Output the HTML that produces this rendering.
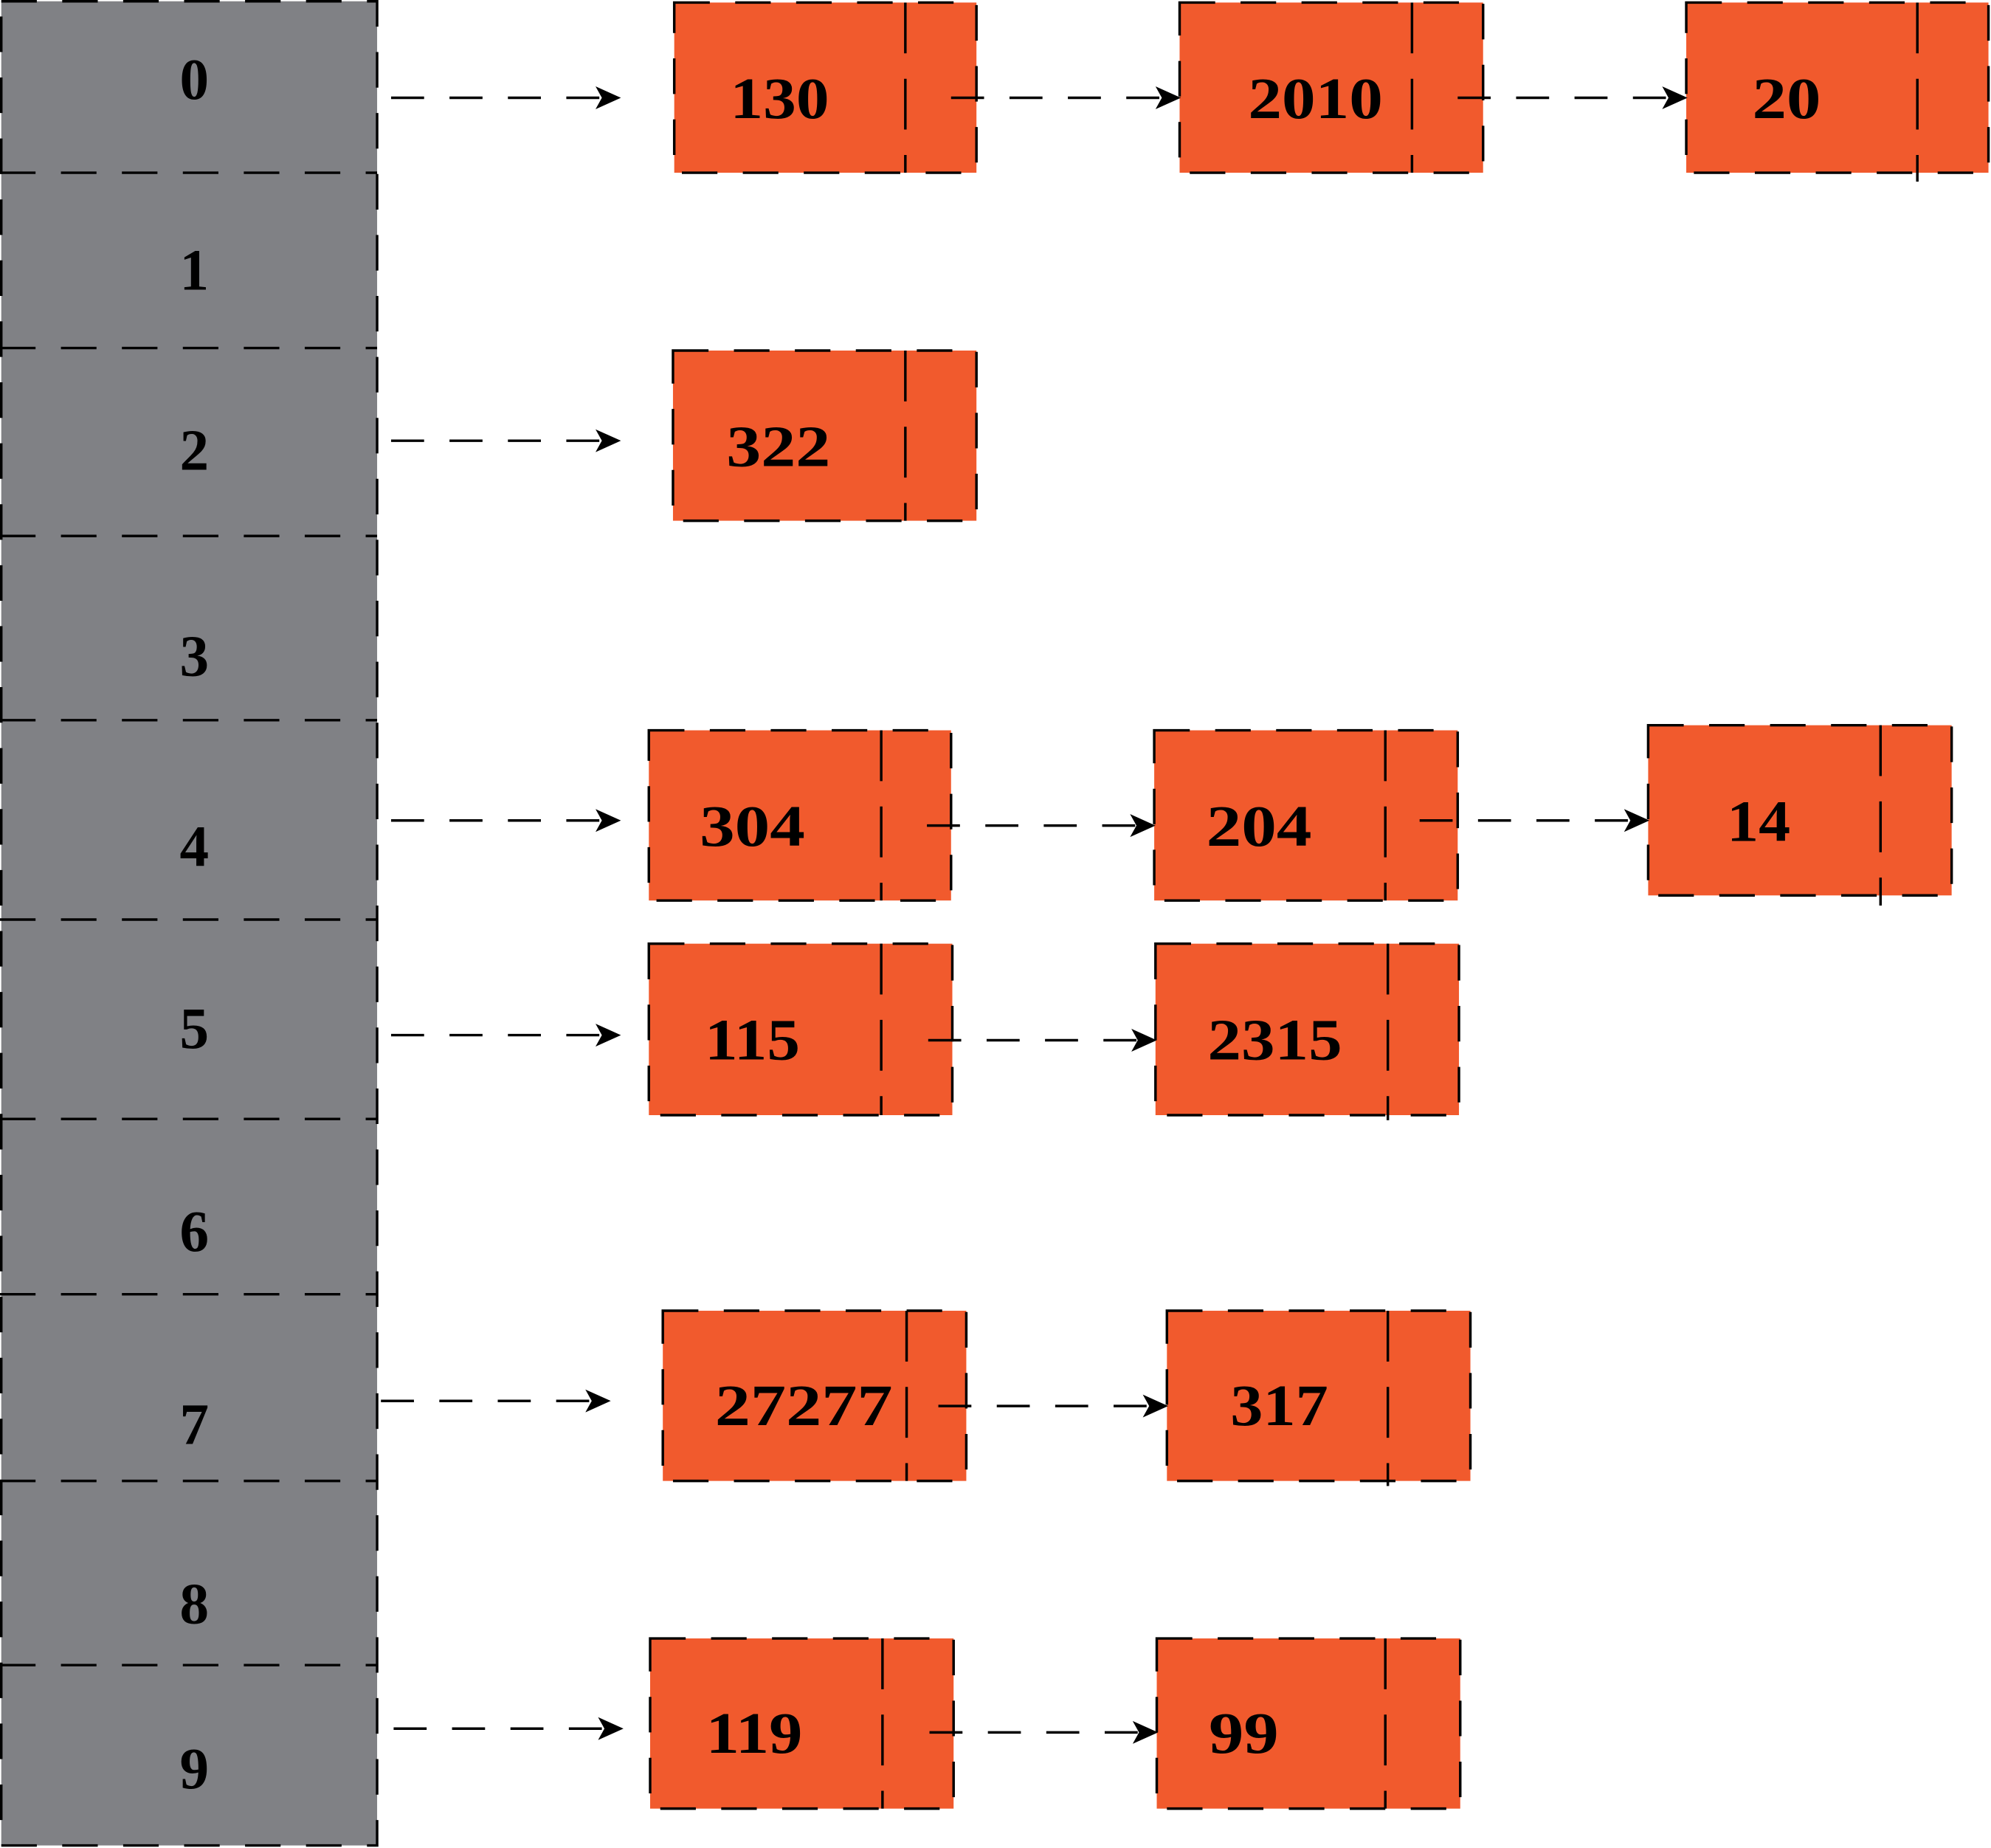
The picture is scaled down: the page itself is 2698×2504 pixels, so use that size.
<!DOCTYPE html>
<html><head><meta charset="utf-8"><style>html,body{margin:0;padding:0;background:#fff}svg{display:block}</style></head>
<body>
<svg width="2698" height="2504" viewBox="0 0 1568 1455" preserveAspectRatio="none" xmlns="http://www.w3.org/2000/svg">
<defs>
<marker id="ah" markerWidth="20" markerHeight="18" refX="19" refY="9" orient="auto" markerUnits="userSpaceOnUse" viewBox="0 0 20 18">
<path d="M0,0 L20,9 L0,18 L5,9 Z" fill="#000"/>
</marker>
</defs>
<g stroke="#000" stroke-width="2" stroke-dasharray="28 20" fill="none">
<rect x="1" y="1" width="296" height="1452" fill="#808185"/>
<line x1="0" y1="136" x2="297" y2="136"/>
<line x1="0" y1="274" x2="297" y2="274"/>
<line x1="0" y1="422" x2="297" y2="422"/>
<line x1="0" y1="567" x2="297" y2="567"/>
<line x1="0" y1="724" x2="297" y2="724"/>
<line x1="0" y1="881" x2="297" y2="881"/>
<line x1="0" y1="1019" x2="297" y2="1019"/>
<line x1="0" y1="1166" x2="297" y2="1166"/>
<line x1="0" y1="1311" x2="297" y2="1311"/>
</g>
<g font-family="Liberation Serif, serif" font-weight="bold" font-size="46" text-anchor="middle" fill="#000">
<text x="153" y="78">0</text>
<text x="153" y="228">1</text>
<text x="153" y="370">2</text>
<text x="153" y="532">3</text>
<text x="153" y="682">4</text>
<text x="153" y="825">5</text>
<text x="153" y="985">6</text>
<text x="153" y="1137">7</text>
<text x="153" y="1278">8</text>
<text x="153" y="1408">9</text>
</g>
<g stroke="#000" stroke-width="2" stroke-dasharray="28 20" fill="#f15a2d">
<rect x="531" y="2" width="238" height="134"/>
<rect x="929" y="2" width="239" height="134"/>
<rect x="1328" y="2" width="238" height="134"/>
<rect x="530" y="276" width="239" height="134"/>
<rect x="511" y="575" width="238" height="134"/>
<rect x="909" y="575" width="239" height="134"/>
<rect x="1298" y="571" width="239" height="134"/>
<rect x="511" y="743" width="239" height="135"/>
<rect x="910" y="743" width="239" height="135"/>
<rect x="522" y="1032" width="239" height="134"/>
<rect x="919" y="1032" width="239" height="134"/>
<rect x="512" y="1290" width="239" height="134"/>
<rect x="911" y="1290" width="239" height="134"/>
</g>
<g stroke="#000" stroke-width="2" stroke-dasharray="40 20">
<line x1="713" y1="2" x2="713" y2="136"/>
<line x1="1112" y1="2" x2="1112" y2="136"/>
<line x1="1510" y1="2" x2="1510" y2="143"/>
<line x1="713" y1="276" x2="713" y2="410"/>
<line x1="694" y1="575" x2="694" y2="709"/>
<line x1="1091" y1="575" x2="1091" y2="709"/>
<line x1="1481" y1="571" x2="1481" y2="713"/>
<line x1="694" y1="743" x2="694" y2="878"/>
<line x1="1093" y1="743" x2="1093" y2="882"/>
<line x1="714" y1="1032" x2="714" y2="1166"/>
<line x1="1093" y1="1032" x2="1093" y2="1170"/>
<line x1="695" y1="1290" x2="695" y2="1424"/>
<line x1="1091" y1="1290" x2="1091" y2="1424"/>
</g>
<g font-family="Liberation Serif, serif" font-weight="bold" font-size="46" fill="#000" lengthAdjust="spacingAndGlyphs">
<text x="575" y="93" textLength="78" lengthAdjust="spacingAndGlyphs">130</text>
<text x="983" y="93" textLength="106" lengthAdjust="spacingAndGlyphs">2010</text>
<text x="1380" y="93" textLength="54" lengthAdjust="spacingAndGlyphs">20</text>
<text x="572" y="367" textLength="82" lengthAdjust="spacingAndGlyphs">322</text>
<text x="551" y="666" textLength="83" lengthAdjust="spacingAndGlyphs">304</text>
<text x="950" y="666" textLength="83" lengthAdjust="spacingAndGlyphs">204</text>
<text x="1360" y="662" textLength="50" lengthAdjust="spacingAndGlyphs">14</text>
<text x="555" y="834" textLength="75" lengthAdjust="spacingAndGlyphs">115</text>
<text x="951" y="834" textLength="106" lengthAdjust="spacingAndGlyphs">2315</text>
<text x="563" y="1122" textLength="140" lengthAdjust="spacingAndGlyphs">27277</text>
<text x="969" y="1122" textLength="77" lengthAdjust="spacingAndGlyphs">317</text>
<text x="556" y="1380" textLength="76" lengthAdjust="spacingAndGlyphs">119</text>
<text x="952" y="1380" textLength="55" lengthAdjust="spacingAndGlyphs">99</text>
</g>
<g stroke="#000" stroke-width="2" stroke-dasharray="26 20" fill="none" marker-end="url(#ah)">
<line x1="308" y1="77" x2="488" y2="77"/>
<line x1="749" y1="77" x2="929" y2="77"/>
<line x1="1148" y1="77" x2="1328" y2="77"/>
<line x1="308" y1="347" x2="488" y2="347"/>
<line x1="308" y1="646" x2="488" y2="646"/>
<line x1="730" y1="650" x2="909" y2="650"/>
<line x1="1118" y1="646" x2="1298" y2="646"/>
<line x1="308" y1="815" x2="488" y2="815"/>
<line x1="731" y1="819" x2="910" y2="819"/>
<line x1="300" y1="1103" x2="480" y2="1103"/>
<line x1="739" y1="1107" x2="919" y2="1107"/>
<line x1="310" y1="1361" x2="490" y2="1361"/>
<line x1="732" y1="1364" x2="911" y2="1364"/>
</g>
</svg>
</body></html>
